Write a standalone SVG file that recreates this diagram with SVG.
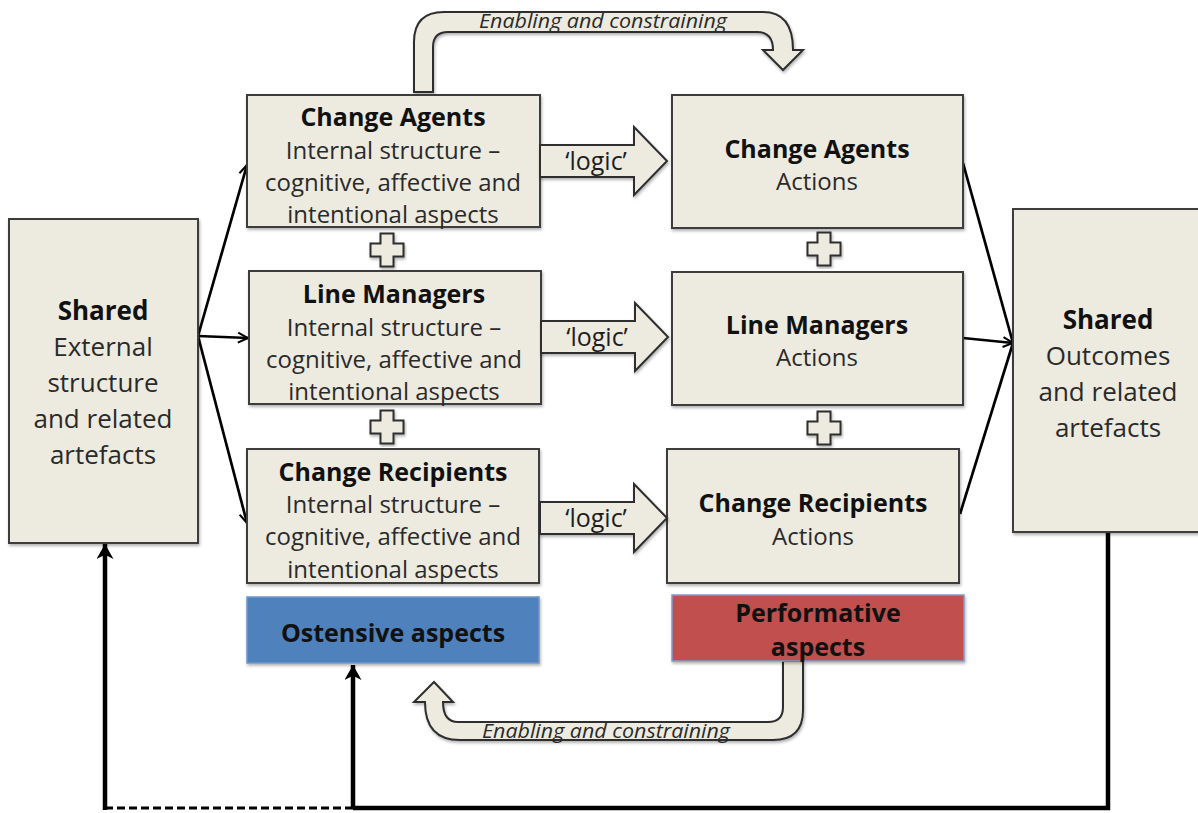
<svg xmlns="http://www.w3.org/2000/svg" xmlns:xlink="http://www.w3.org/1999/xlink" width="1198" height="813" viewBox="0 0 1198 813">
<style>
  .box { fill: #EDEAE0; stroke: #3c3c3c; stroke-width: 2; filter: url(#sh); }
  .ost { fill: #4F81BD; stroke: #6f97cc; stroke-width: 1.5; filter: url(#sh); }
  .perf { fill: #C0504D; stroke: #7f9acb; stroke-width: 1.5; filter: url(#sh); }
  .shape { fill: #EDEAE0; stroke: #2e2e2e; stroke-width: 2; filter: url(#sh); }
  text { font-family: "Open Sans", "Liberation Sans", sans-serif; text-anchor: middle; }
  .t { font-weight: bold; font-size: 25px; fill: #111; }
  .b { font-size: 24px; fill: #2a2a2a; }
  .st { font-weight: bold; font-size: 26px; fill: #111; }
  .sb { font-size: 26px; fill: #2a2a2a; }
  .lg { font-size: 25px; fill: #1e1e1e; }
  .it { font-style: italic; font-size: 20.5px; fill: #2a2a2a; }
  .thin { fill: none; stroke: #000; stroke-width: 2.7; }
  .thick { fill: none; stroke: #000; stroke-width: 4.5; }
</style>
<defs>
  <filter id="sh" x="-10%" y="-10%" width="120%" height="120%">
    <feDropShadow dx="1" dy="2" stdDeviation="1.5" flood-color="#000" flood-opacity="0.3"/>
  </filter>
  <marker id="open" viewBox="0 0 12 12" refX="11" refY="6" markerWidth="12" markerHeight="12" markerUnits="userSpaceOnUse" orient="auto">
    <path d="M1,1 L11,6 L1,11" fill="none" stroke="#000" stroke-width="2"/>
  </marker>
  <marker id="solid" viewBox="0 0 14 16" refX="14" refY="8" markerWidth="15" markerHeight="17" markerUnits="userSpaceOnUse" orient="auto">
    <path d="M0,0 L14,8 L0,16 L4,8 Z" fill="#000"/>
  </marker>
  <path id="plus" d="M-6.5,-16.5 H6.5 V-6.5 H16.5 V6.5 H6.5 V16.5 H-6.5 V6.5 H-16.5 V-6.5 H-6.5 Z"/>
  <path id="logicArrow" d="M0,-16 H94 V-34 L127,0 L94,34 V16 H0 Z"/>
</defs>
<rect width="1198" height="813" fill="#fff"/>

<g id="connectors">
  <line class="thin" x1="198" y1="336" x2="247" y2="165" marker-end="url(#open)"/>
  <line class="thin" x1="198" y1="336" x2="248" y2="338" marker-end="url(#open)"/>
  <line class="thin" x1="198" y1="336" x2="247" y2="523" marker-end="url(#open)"/>
  <line class="thin" x1="963" y1="163" x2="1013" y2="343"/>
  <line class="thin" x1="960" y1="514" x2="1013" y2="343"/>
  <line class="thin" x1="963" y1="338" x2="1013" y2="343" marker-end="url(#open)"/>
  <polyline class="thick" points="1108,533 1108,808 353,808"/>
  <line class="thick" x1="353" y1="808" x2="353" y2="665" marker-end="url(#solid)"/>
  <line x1="353" y1="808" x2="105" y2="808" stroke="#000" stroke-width="3" stroke-dasharray="8,4"/>
  <line class="thick" x1="105" y1="810" x2="105" y2="544" marker-end="url(#solid)"/>
</g>

<g id="enabling-top">
  <path class="shape" d="M414,92 V42 Q414,12 444,12 H763 Q793,12 793,50 H803 L783,70 L763,50 H773 Q773,32 757,32 H448 Q433,32 433,47 V92 Z"/>
  <text class="it" x="603" y="28" textLength="248" lengthAdjust="spacingAndGlyphs">Enabling and constraining</text>
</g>

<g id="enabling-bottom">
  <path class="shape" d="M783,661 V707 Q783,722 768,722 H458 Q443,722 443,702 H453 L434,682 L414,702 H425 Q425,740 460,740 H773 Q803,740 803,710 V661 Z"/>
  <text class="it" x="606" y="738" textLength="248" lengthAdjust="spacingAndGlyphs">Enabling and constraining</text>
</g>

<g id="shared-external">
  <rect class="box" x="9" y="219" width="189" height="324"/>
  <text class="st" x="103" y="320">Shared</text>
  <text class="sb" x="103" y="356">External</text>
  <text class="sb" x="103" y="392">structure</text>
  <text class="sb" x="103" y="428">and related</text>
  <text class="sb" x="103" y="464">artefacts</text>
</g>

<g id="shared-outcomes">
  <rect class="box" x="1013" y="209" width="190" height="323"/>
  <text class="st" x="1108" y="329">Shared</text>
  <text class="sb" x="1108" y="365">Outcomes</text>
  <text class="sb" x="1108" y="401">and related</text>
  <text class="sb" x="1108" y="437">artefacts</text>
</g>

<g id="ca-internal">
  <rect class="box" x="247" y="95" width="293" height="132"/>
  <text class="t" x="393" y="126">Change Agents</text>
  <text class="b" x="393" y="159">Internal structure –</text>
  <text class="b" x="393" y="191">cognitive, affective and</text>
  <text class="b" x="393" y="223">intentional aspects</text>
</g>

<g id="lm-internal">
  <rect class="box" x="249" y="271" width="292" height="133"/>
  <text class="t" x="394" y="303">Line Managers</text>
  <text class="b" x="394" y="336">Internal structure –</text>
  <text class="b" x="394" y="368">cognitive, affective and</text>
  <text class="b" x="394" y="400">intentional aspects</text>
</g>

<g id="cr-internal">
  <rect class="box" x="247" y="449" width="292" height="134"/>
  <text class="t" x="393" y="481">Change Recipients</text>
  <text class="b" x="393" y="513">Internal structure –</text>
  <text class="b" x="393" y="545">cognitive, affective and</text>
  <text class="b" x="393" y="578">intentional aspects</text>
</g>

<g id="ostensive">
  <rect class="ost" x="247" y="597" width="292" height="66"/>
  <text class="t" x="393" y="642">Ostensive aspects</text>
</g>

<g id="ca-actions">
  <rect class="box" x="672" y="95" width="291" height="133"/>
  <text class="t" x="817" y="158">Change Agents</text>
  <text class="b" x="817" y="190">Actions</text>
</g>

<g id="lm-actions">
  <rect class="box" x="672" y="272" width="291" height="133"/>
  <text class="t" x="817" y="334">Line Managers</text>
  <text class="b" x="817" y="366">Actions</text>
</g>

<g id="cr-actions">
  <rect class="box" x="667" y="449" width="292" height="134"/>
  <text class="t" x="813" y="512">Change Recipients</text>
  <text class="b" x="813" y="545">Actions</text>
</g>

<g id="performative">
  <rect class="perf" x="672" y="595" width="292" height="66"/>
  <text class="t" x="818" y="622">Performative</text>
  <text class="t" x="818" y="656">aspects</text>
</g>

<g id="logic-ca">
  <use href="#logicArrow" class="shape" x="540" y="161"/>
  <text class="lg" x="596" y="170">‘logic’</text>
</g>
<g id="logic-lm">
  <use href="#logicArrow" class="shape" x="541" y="337"/>
  <text class="lg" x="597" y="346">‘logic’</text>
</g>
<g id="logic-cr">
  <use href="#logicArrow" class="shape" x="540" y="518"/>
  <text class="lg" x="596" y="527">‘logic’</text>
</g>

<g id="plus-left-1"><use href="#plus" class="shape" x="387" y="250"/></g>
<g id="plus-left-2"><use href="#plus" class="shape" x="387" y="427"/></g>
<g id="plus-right-1"><use href="#plus" class="shape" x="824" y="249"/></g>
<g id="plus-right-2"><use href="#plus" class="shape" x="824" y="428"/></g>
</svg>
